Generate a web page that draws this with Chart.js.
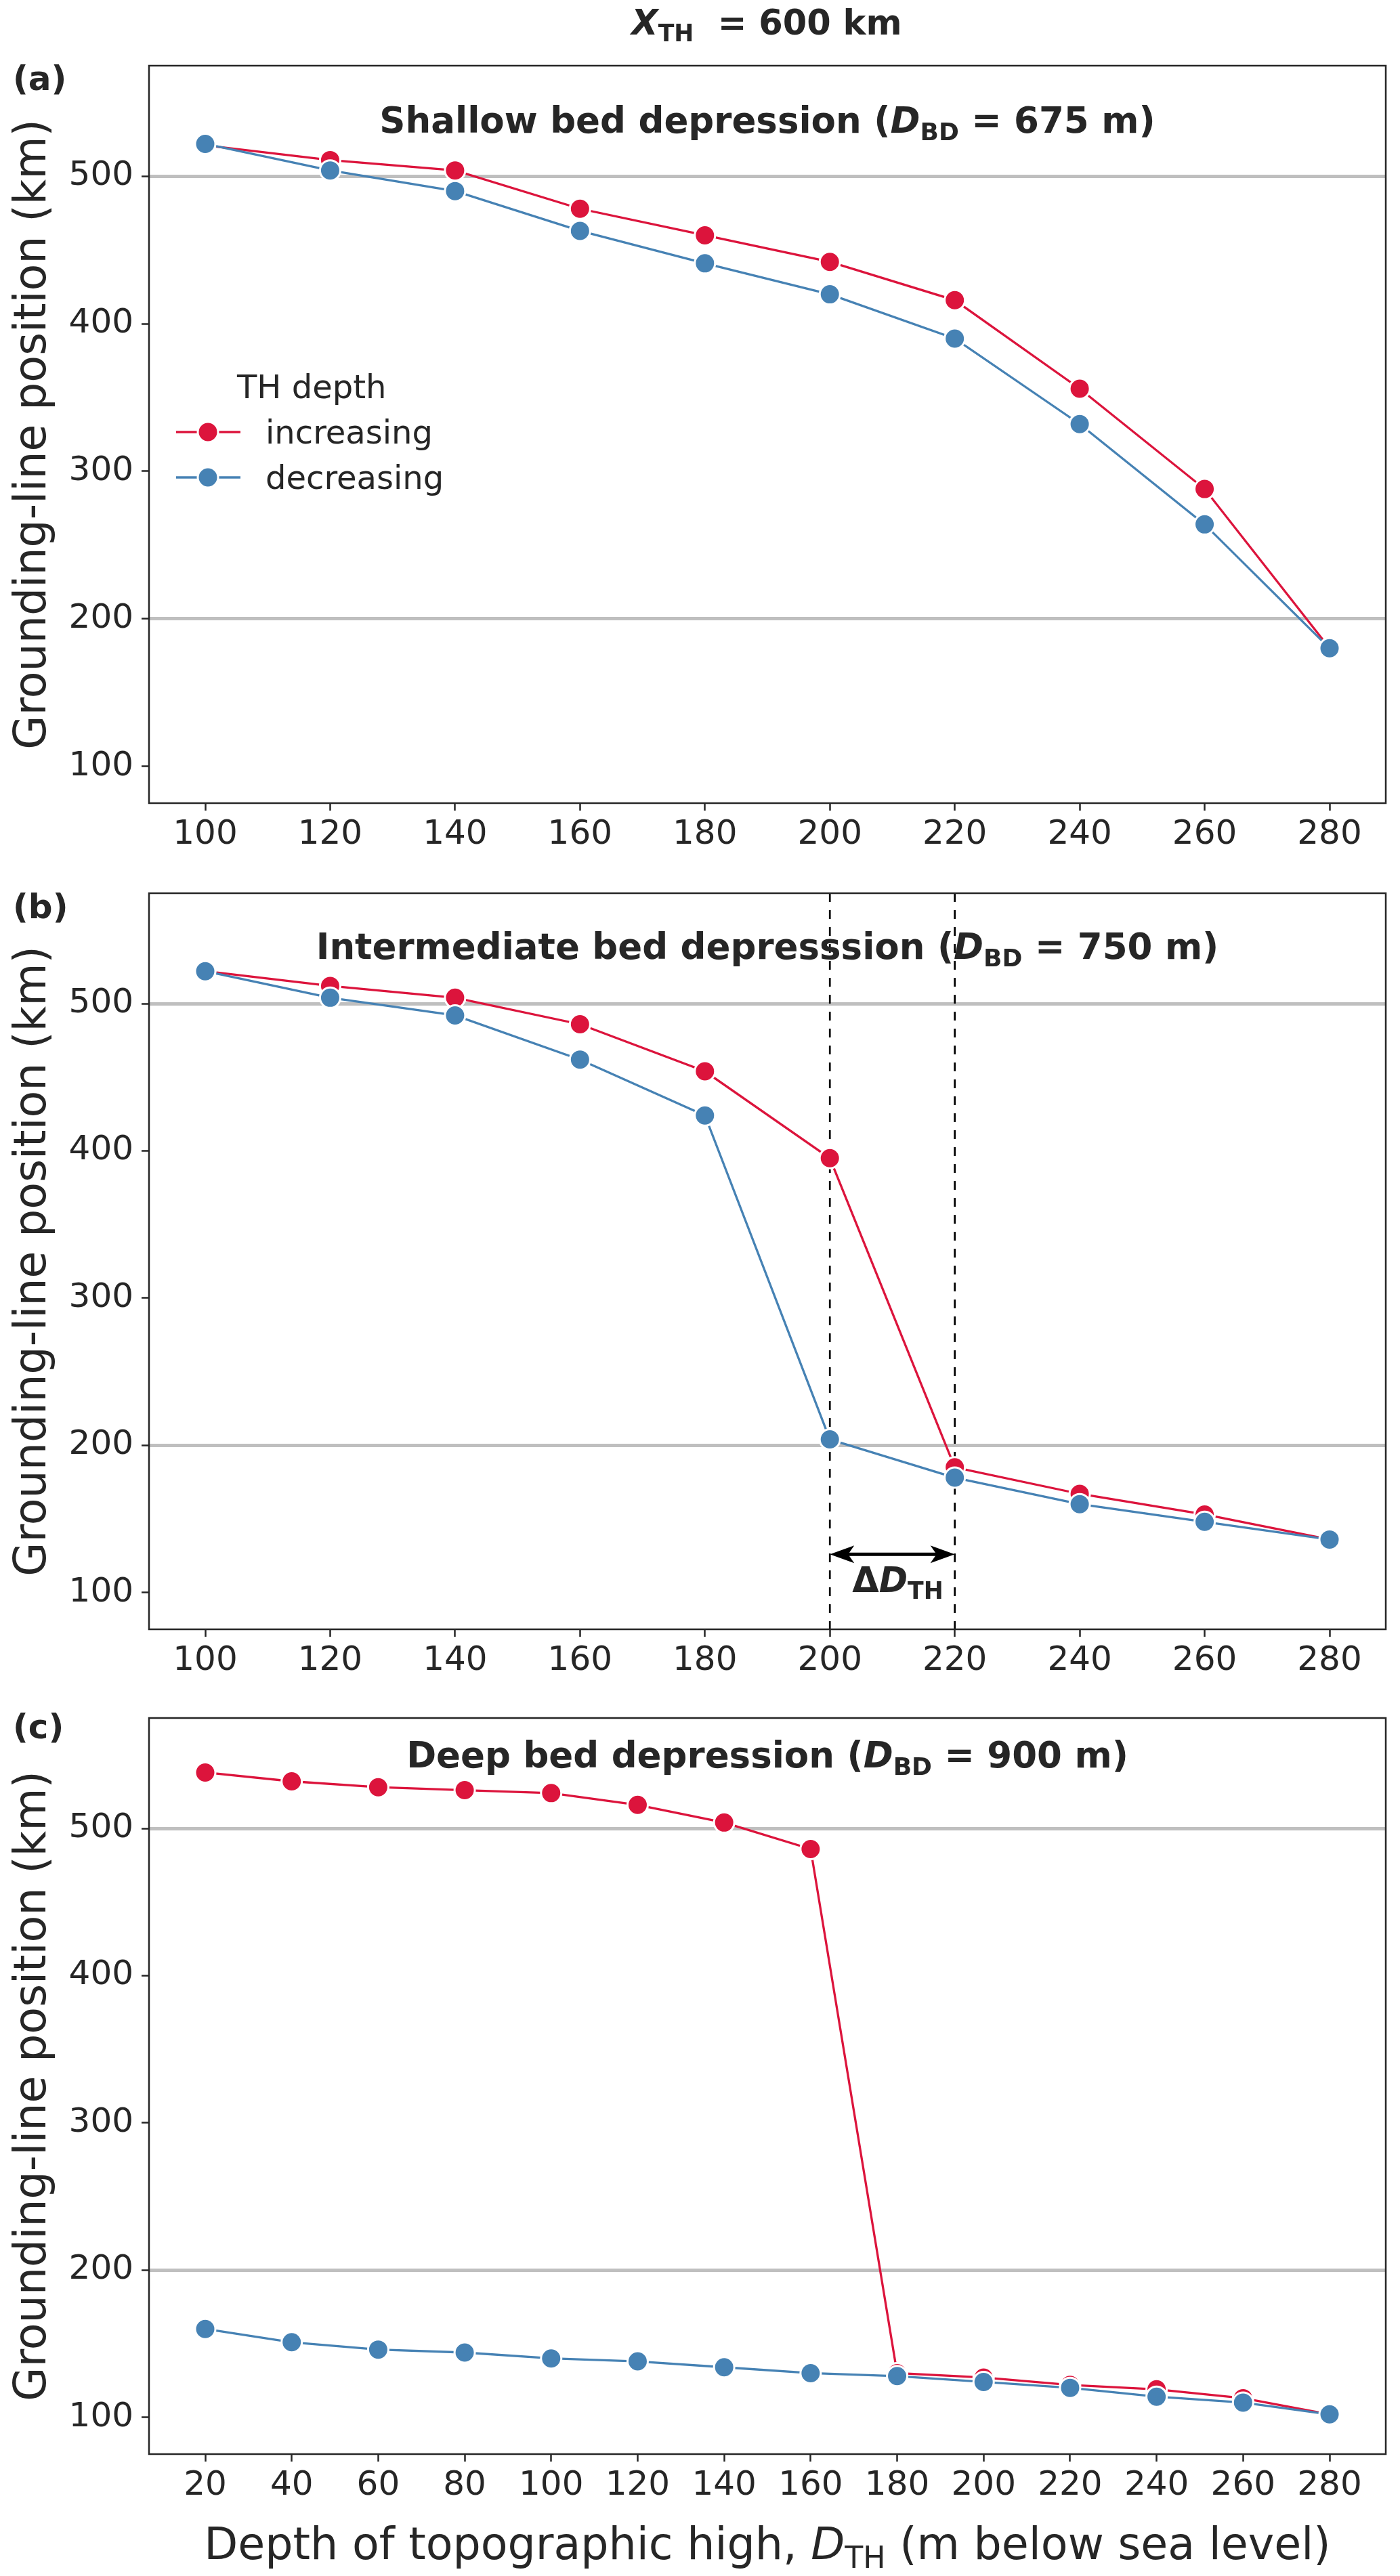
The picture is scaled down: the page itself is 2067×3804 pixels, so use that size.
<!DOCTYPE html>
<html lang="en">
<head>
<meta charset="UTF-8">
<title>Grounding-line position vs depth of topographic high</title>
<script src="https://cdn.jsdelivr.net/npm/chart.js"></script>
<style>
  body { margin: 0; background: #fff; }
  #wrap { position: relative; width: 2067px; height: 3804px; }
  canvas { position: absolute; left: 0; }
</style>
</head>
<body>
<div id="wrap">
  <canvas id="panelA" width="2067" height="1255" style="top:0px"></canvas>
  <canvas id="panelB" width="2067" height="1215" style="top:1255px"></canvas>
  <canvas id="panelC" width="2067" height="1334" style="top:2470px"></canvas>
</div>
<script>
// depths of the topographic high (m below sea level)
const depthsAB = [100, 120, 140, 160, 180, 200, 220, 240, 260, 280];
const depthsC = [20, 40, 60, 80, 100, 120, 140, 160, 180, 200, 220, 240, 260, 280];

// grounding-line position (km), TH depth increasing / decreasing
const incA = [521, 511, 504, 478, 460, 442, 416, 356, 288, 180];
const decA = [522, 504, 490, 463, 441, 420, 390, 332, 264, 180];
const incB = [522, 512, 504, 486, 454, 395, 185, 167, 153, 136];
const decB = [522, 504, 492, 462, 424, 204, 178, 160, 148, 136];
const incC = [538, 532, 528, 526, 524, 516, 504, 486, 130, 127, 122, 119, 113, 102];
const decC = [160, 151, 146, 144, 140, 138, 134, 130, 128, 124, 120, 114, 110, 102];

const yTicks = [100, 200, 300, 400, 500];
const refLines = [200, 500];
const deltaRange = [200, 220];

const RED = '#dc143c';
const BLUE = '#4682b4';
const INK = '#262626';
const FONT = '"DejaVu Sans", sans-serif';

Chart.defaults.font.family = FONT;
Chart.defaults.color = INK;

// draws text made of parts [text, style, isSub]; style: n, i, b, bi
function richText(ctx, parts, x, base, size, align) {
  const fontOf = (st, sz) => (st === 'bi' ? 'italic bold ' : st === 'b' ? 'bold ' : st === 'i' ? 'italic ' : '') + sz + 'px ' + FONT;
  let total = 0;
  const widths = parts.map(p => {
    ctx.font = fontOf(p[1], p[2] ? size * 0.68 : size);
    const w = ctx.measureText(p[0]).width;
    total += w;
    return w;
  });
  let cx = align === 'left' ? x : x - total / 2;
  ctx.save();
  ctx.fillStyle = INK;
  ctx.textBaseline = 'alphabetic';
  ctx.textAlign = 'left';
  parts.forEach((p, i) => {
    ctx.font = fontOf(p[1], p[2] ? size * 0.68 : size);
    ctx.fillText(p[0], cx, p[2] ? base + size * 0.2 : base);
    cx += widths[i];
  });
  ctx.restore();
}

function marker(ctx, x, y, color) {
  ctx.beginPath();
  ctx.arc(x, y, 15, 0, Math.PI * 2);
  ctx.fillStyle = color;
  ctx.fill();
  ctx.lineWidth = 3;
  ctx.strokeStyle = '#fff';
  ctx.stroke();
}

function makePanel(id, cfg) {
  const canvas = document.getElementById(id);
  const H = canvas.height;
  const deco = {
    id: 'deco' + id,
    beforeDatasetsDraw(chart) {
      if (cfg.before) cfg.before(chart);
    },
    afterDraw(chart) {
      const ctx = chart.ctx;
      const a = chart.chartArea;
      ctx.save();
      ctx.strokeStyle = INK;
      ctx.lineWidth = 2.5;
      ctx.strokeRect(a.left, a.top, a.right - a.left, a.bottom - a.top);
      ctx.restore();
      const mid = (a.left + a.right) / 2;
      richText(ctx, cfg.title, mid, cfg.titleBase, 53);
      richText(ctx, [[cfg.letter, 'b']], 19, cfg.letterBase, 50, 'left');
      // y axis title
      ctx.save();
      ctx.translate(50, (a.top + a.bottom) / 2);
      ctx.rotate(-Math.PI / 2);
      ctx.font = '65px ' + FONT;
      ctx.fillStyle = INK;
      ctx.textAlign = 'center';
      ctx.textBaseline = 'middle';
      ctx.fillText('Grounding-line position (km)', 0, 0);
      ctx.restore();
      if (cfg.after) cfg.after(chart);
    }
  };
  return new Chart(canvas.getContext('2d'), {
    type: 'line',
    data: {
      datasets: [
        {
          label: 'decreasing', order: 0,
          data: cfg.xs.map((x, i) => ({ x: x, y: cfg.dec[i] })),
          borderColor: BLUE, backgroundColor: BLUE, borderWidth: 3.3,
          pointBackgroundColor: BLUE, pointBorderColor: '#fff',
          pointRadius: 15, pointBorderWidth: 3, tension: 0
        },
        {
          label: 'increasing', order: 1,
          data: cfg.xs.map((x, i) => ({ x: x, y: cfg.inc[i] })),
          borderColor: RED, backgroundColor: RED, borderWidth: 3.3,
          pointBackgroundColor: RED, pointBorderColor: '#fff',
          pointRadius: 15, pointBorderWidth: 3, tension: 0
        }
      ]
    },
    options: {
      responsive: false,
      animation: false,
      devicePixelRatio: 1,
      layout: { padding: { top: cfg.top, right: 21, left: 0, bottom: 0 } },
      plugins: { legend: { display: false }, tooltip: { enabled: false } },
      scales: {
        x: {
          type: 'linear',
          min: cfg.xMin, max: cfg.xMax,
          afterBuildTicks: s => { s.ticks = cfg.xs.map(v => ({ value: v })); },
          afterFit: s => { s.height = H - cfg.bottom; },
          grid: { drawOnChartArea: false, tickLength: 11, tickColor: INK, tickWidth: 2.5 },
          border: { display: false },
          ticks: { font: { size: 50 }, color: INK, padding: 6, maxRotation: 0, autoSkip: false, callback: v => v }
        },
        y: {
          min: 75, max: 575,
          afterBuildTicks: s => { s.ticks = yTicks.map(v => ({ value: v })); },
          afterFit: s => { s.width = 220; },
          grid: {
            color: c => (c.tick && refLines.includes(c.tick.value)) ? '#bfbfbf' : 'rgba(0,0,0,0)',
            lineWidth: 5, tickLength: 11, tickColor: INK, tickWidth: 2.5
          },
          border: { display: false },
          ticks: { font: { size: 50 }, color: INK, padding: 12, callback: v => v }
        }
      }
    },
    plugins: [deco]
  });
}

// (a) shallow
makePanel('panelA', {
  xs: depthsAB, inc: incA, dec: decA, xMin: 91, xMax: 289,
  top: 97, bottom: 1186,
  title: [['Shallow bed depression (', 'b'], ['D', 'bi'], ['BD', 'b', true], [' = 675 m)', 'b']],
  titleBase: 196, letter: '(a)', letterBase: 133,
  after(chart) {
    const ctx = chart.ctx;
    richText(ctx, [['X', 'bi'], ['TH', 'b', true], ['  = 600 km', 'b']], 1132, 51, 51);
    // legend
    ctx.save();
    ctx.font = '48px ' + FONT;
    ctx.fillStyle = INK;
    ctx.textBaseline = 'alphabetic';
    ctx.fillText('TH depth', 350, 588);
    [['increasing', RED, 638], ['decreasing', BLUE, 705]].forEach(it => {
      ctx.strokeStyle = it[1];
      ctx.lineWidth = 3.5;
      ctx.beginPath();
      ctx.moveTo(260, it[2]);
      ctx.lineTo(355, it[2]);
      ctx.stroke();
      marker(ctx, 307, it[2], it[1]);
      ctx.fillStyle = INK;
      ctx.font = '48px ' + FONT;
      ctx.fillText(it[0], 392, it[2] + 17);
    });
    ctx.restore();
  }
});

// (b) intermediate
makePanel('panelB', {
  xs: depthsAB, inc: incB, dec: decB, xMin: 91, xMax: 289,
  top: 64, bottom: 1151,
  title: [['Intermediate bed depresssion (', 'b'], ['D', 'bi'], ['BD', 'b', true], [' = 750 m)', 'b']],
  titleBase: 161, letter: '(b)', letterBase: 101,
  before(chart) {
    const ctx = chart.ctx;
    const a = chart.chartArea;
    const sx = chart.scales.x;
    ctx.save();
    ctx.strokeStyle = '#000';
    ctx.lineWidth = 2.7;
    ctx.setLineDash([13, 12]);
    deltaRange.forEach(v => {
      const px = sx.getPixelForValue(v);
      ctx.beginPath();
      ctx.moveTo(px, a.top);
      ctx.lineTo(px, a.bottom);
      ctx.stroke();
    });
    ctx.restore();
  },
  after(chart) {
    const ctx = chart.ctx;
    const sx = chart.scales.x;
    const sy = chart.scales.y;
    const x1 = sx.getPixelForValue(deltaRange[0]);
    const x2 = sx.getPixelForValue(deltaRange[1]);
    const y = sy.getPixelForValue(126);
    ctx.save();
    ctx.strokeStyle = '#000';
    ctx.fillStyle = '#000';
    ctx.lineWidth = 5;
    ctx.beginPath();
    ctx.moveTo(x1 + 20, y);
    ctx.lineTo(x2 - 20, y);
    ctx.stroke();
    [[x1, 1], [x2, -1]].forEach(h => {
      const tip = h[0], d = h[1];
      ctx.beginPath();
      ctx.moveTo(tip, y);
      ctx.lineTo(tip + d * 36, y - 13);
      ctx.lineTo(tip + d * 27, y);
      ctx.lineTo(tip + d * 36, y + 13);
      ctx.closePath();
      ctx.fill();
    });
    ctx.restore();
    richText(ctx, [['\u0394', 'b'], ['D', 'bi'], ['TH', 'b', true]], (x1 + x2) / 2 + 8, y + 56, 51);
  }
});

// (c) deep
makePanel('panelC', {
  xs: depthsC, inc: incC, dec: decC, xMin: 7, xMax: 293,
  top: 67, bottom: 1154,
  title: [['Deep bed depression (', 'b'], ['D', 'bi'], ['BD', 'b', true], [' = 900 m)', 'b']],
  titleBase: 140, letter: '(c)', letterBase: 97,
  after(chart) {
    const a = chart.chartArea;
    richText(chart.ctx, [['Depth of topographic high, ', 'n'], ['D', 'i'], ['TH', 'n', true], [' (m below sea level)', 'n']],
      (a.left + a.right) / 2, 1309, 65);
  }
});
</script>
</body>
</html>
